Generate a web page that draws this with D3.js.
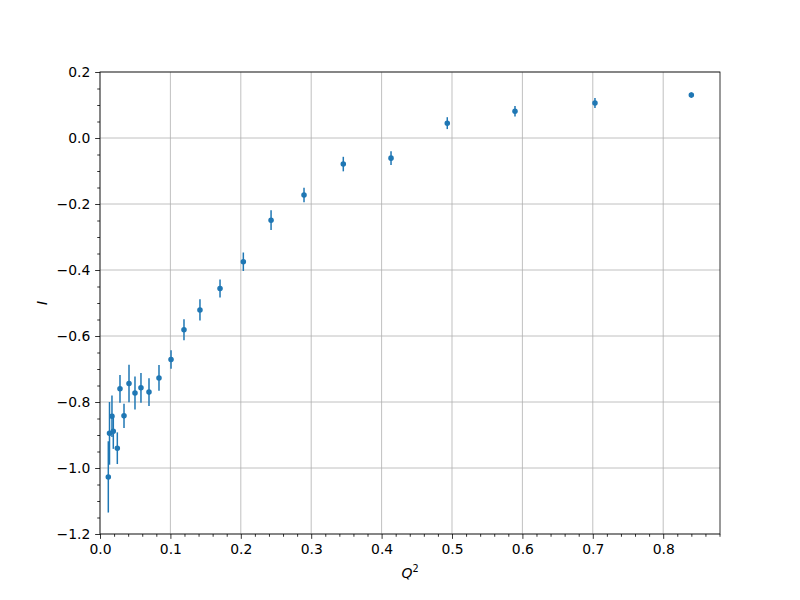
<!DOCTYPE html>
<html>
<head>
<meta charset="utf-8">
<script src="https://cdn.jsdelivr.net/npm/d3@7"></script>
<style>
body { margin: 0; background: #fff; }
svg { display: block; font-family: "DejaVu Sans", sans-serif; }
</style>
</head>
<body>
<svg id="chart" width="800" height="600"></svg>
<script>
// Data
const q2 = [0.0118, 0.0135, 0.0170, 0.0189, 0.0246, 0.0284, 0.0341, 0.0412, 0.0497, 0.0582,
            0.0696, 0.0838, 0.1009, 0.1193, 0.1420, 0.1705, 0.2036, 0.2430, 0.2898, 0.3456,
            0.4134, 0.4933, 0.5895, 0.7031, 0.8400];
const intensity = [-1.027, -0.895, -0.843, -0.889, -0.940, -0.760, -0.842, -0.744, -0.773, -0.757,
                   -0.770, -0.727, -0.671, -0.581, -0.521, -0.456, -0.375, -0.249, -0.173, -0.079,
                   -0.061, 0.045, 0.081, 0.106, 0.130];
const errors = [0.108, 0.095, 0.063, 0.053, 0.048, 0.042, 0.037, 0.057, 0.050, 0.045,
                0.042, 0.039, 0.028, 0.032, 0.032, 0.027, 0.028, 0.030, 0.022, 0.022,
                0.021, 0.018, 0.016, 0.015, 0.008];
const xTicks = [0.0, 0.1, 0.2, 0.3, 0.4, 0.5, 0.6, 0.7, 0.8];
const yTicks = [-1.2, -1.0, -0.8, -0.6, -0.4, -0.2, 0.0, 0.2];
const xDomain = [0, 0.8807];
const yDomain = [-1.2, 0.2];

const svg = d3.select("#chart");
const L = 100, R = 720, T = 72, B = 534;
const color = "#1f77b4";
const fs = 13.9;

const x = d3.scaleLinear().domain(xDomain).range([L, R]);
const y = d3.scaleLinear().domain(yDomain).range([B, T]);

// grid
const grid = svg.append("g");
grid.selectAll("line.gx").data(xTicks).enter().append("line")
  .attr("x1", d => x(d)).attr("x2", d => x(d)).attr("y1", T).attr("y2", B)
  .attr("stroke", "#b0b0b0").attr("stroke-width", 0.8);
grid.selectAll("line.gy").data(yTicks).enter().append("line")
  .attr("x1", L).attr("x2", R).attr("y1", d => y(d)).attr("y2", d => y(d))
  .attr("stroke", "#b0b0b0").attr("stroke-width", 0.8);

// data
const pts = q2.map((v, i) => ({x: v, y: intensity[i], e: errors[i]}));
const dg = svg.append("g");
dg.selectAll("line.err").data(pts).enter().append("line")
  .attr("x1", d => x(d.x)).attr("x2", d => x(d.x))
  .attr("y1", d => y(d.y - d.e)).attr("y2", d => y(d.y + d.e))
  .attr("stroke", color).attr("stroke-width", 1.5);
dg.selectAll("circle").data(pts).enter().append("circle")
  .attr("cx", d => x(d.x)).attr("cy", d => y(d.y)).attr("r", 2.08)
  .attr("fill", color).attr("stroke", color).attr("stroke-width", 1.39);

// axes
const fmt = d => d3.format(".1f")(d).replace("-", "\u2212");
const minorX = d3.range(0, 0.8807, 0.02).filter(v => Math.abs(v * 10 - Math.round(v * 10)) > 1e-6);
const minorY = d3.range(-1.2, 0.2001, 0.05).filter(v => Math.abs(v * 5 - Math.round(v * 5)) > 1e-6);

const xAxis = svg.append("g").attr("transform", `translate(0,${B})`)
  .call(d3.axisBottom(x).tickValues(xTicks).tickFormat(fmt).tickSize(4.86).tickPadding(4.86));
const xMinor = svg.append("g").attr("transform", `translate(0,${B})`)
  .call(d3.axisBottom(x).tickValues(minorX).tickFormat("").tickSize(2.78));
const yAxis = svg.append("g").attr("transform", `translate(${L},0)`)
  .call(d3.axisLeft(y).tickValues(yTicks).tickFormat(fmt).tickSize(4.86).tickPadding(4.86));
const yMinor = svg.append("g").attr("transform", `translate(${L},0)`)
  .call(d3.axisLeft(y).tickValues(minorY).tickFormat("").tickSize(2.78));

[xAxis, xMinor, yAxis, yMinor].forEach(g => {
  g.select(".domain").remove();
  g.selectAll(".tick line").attr("stroke", "#000").attr("stroke-width", 0.8);
  g.selectAll("text").attr("fill", "#000").style("font-size", fs + "px")
    .style("font-family", "DejaVu Sans, sans-serif");
});

// spines
svg.append("rect").attr("x", L).attr("y", T).attr("width", R - L).attr("height", B - T)
  .attr("fill", "none").attr("stroke", "#000").attr("stroke-width", 0.8);

// labels
const xl = svg.append("text").attr("x", (L + R) / 2).attr("y", 578)
  .attr("text-anchor", "middle").style("font-size", fs + "px").style("font-style", "italic");
xl.append("tspan").text("Q");
xl.append("tspan").attr("dy", -6).style("font-size", "9.7px").style("font-style", "normal").text("2");

svg.append("text").attr("transform", `translate(47,${(T + B) / 2}) rotate(-90)`)
  .attr("text-anchor", "middle").style("font-size", fs + "px").style("font-style", "italic").text("I");
</script>
</body>
</html>
